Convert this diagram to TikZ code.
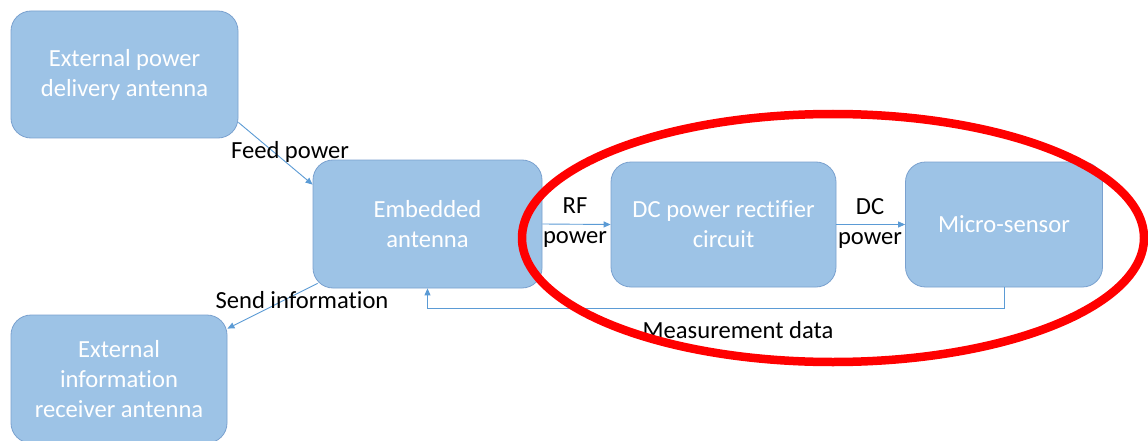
\documentclass[tikz,border=0pt]{standalone}
\usepackage{fontspec}
\setmainfont{Carlito}[Ligatures=NoCommon]
\usetikzlibrary{arrows.meta}
\definecolor{boxblue}{HTML}{9DC3E6}
\definecolor{boxedge}{HTML}{7AA1CF}
\definecolor{arrblue}{HTML}{5B9BD5}
\tikzset{
  blk/.style={rectangle, rounded corners=20pt, fill=boxblue, draw=boxedge, line width=0.8pt,
    text=white, align=center, inner sep=0pt, font=\fontsize{24.6}{30}\selectfont},
  arr/.style={draw=arrblue, line width=0.9pt, -{Triangle[length=7pt,width=6pt]}},
  lbl/.style={text=black, align=center, inner sep=0pt, font=\fontsize{24.6}{30}\selectfont},
}
\begin{document}
\begin{tikzpicture}[x=1pt,y=-1pt]
\useasboundingbox (0,0) rectangle (1148,441);
\fill[white] (0,0) rectangle (1148,441);
\node[blk, minimum width=227pt, minimum height=127pt] (ext) at (124.5,74.5) {External power\\delivery antenna};
\node[blk, minimum width=229pt, minimum height=128pt] (emb) at (427.5,224) {Embedded\\antenna};
\node[blk, minimum width=216pt, minimum height=128pt] (rec) at (119,379) {External\\information\\receiver antenna};
\node[blk, minimum width=225pt, minimum height=125pt] (dc) at (723.5,224.5) {DC power rectifier\\circuit};
\node[blk, minimum width=197pt, minimum height=125pt] (ms) at (1004,224.5) {Micro-sensor};

\draw[arr] ([yshift=16pt]ext.south east) -- ([yshift=-25pt]emb.north west);
\draw[arr] ([xshift=5pt,yshift=5pt]emb.south west) -- ([yshift=-14pt]rec.north east);
\draw[arr] (emb.east) -- (dc.west);
\draw[arr] (dc.east) -- (ms.west);
\draw[arr] (ms.south) -- ++(0,21) -| (emb.south);

\node[lbl] (lfeed) at (290,152) {Feed power};
\node[lbl] (lsend) at (302,300) {Send information};
\node[lbl] (lrf) at (575,223) {RF\\power};
\node[lbl] (ldc) at (870,223) {DC\\power};
\node[lbl] (lmeas) at (738,330) {Measurement data};

\draw[red, line width=8.5pt] (833,238) ellipse [x radius=311pt, y radius=124pt];
\end{tikzpicture}
\end{document}
